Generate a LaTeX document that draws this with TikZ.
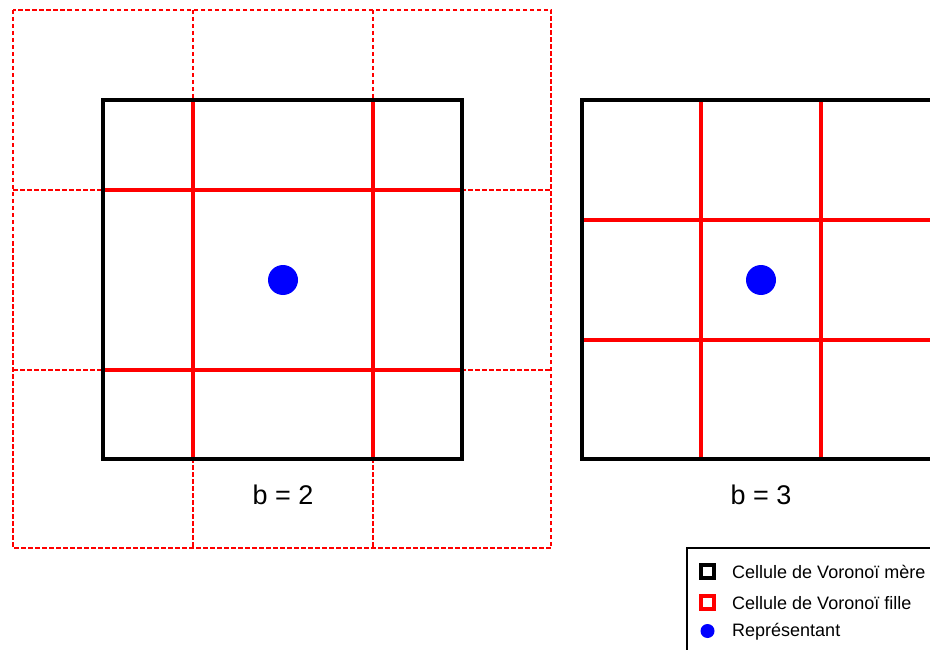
\documentclass[tikz,border=0pt]{standalone}
\usepackage{fontspec}
\setmainfont{Liberation Sans}
\definecolor{vred}{RGB}{255,0,0}
\definecolor{vblue}{RGB}{0,0,255}
\begin{document}
\begin{tikzpicture}[x=1pt,y=-1pt,
  mother/.style={draw=black,line width=3.6pt},
  child/.style={draw=vred,line width=3.2pt},
  childdash/.style={draw=vred,line width=2.9pt,dash pattern=on 4.5pt off 2.5pt},
  rep/.style={fill=vblue},
  lbl/.style={font=\fontsize{27}{32}\selectfont,inner sep=0pt},
  legtext/.style={font=\fontsize{18}{21}\selectfont,anchor=west,inner sep=0pt}]
\useasboundingbox (0,0) rectangle (930,650);
\clip (0,0) rectangle (930,650);
\fill[white] (0,0) rectangle (930,650);
% ---- left figure (b = 2)
\draw[childdash] (13,10) rectangle (551,548);
\draw[childdash] (193,10) -- (193,548);
\draw[childdash] (373,10) -- (373,548);
\draw[childdash] (13,190) -- (551,190);
\draw[childdash] (13,370) -- (551,370);
\draw[child] (193,100) -- (193,459);
\draw[child] (373,100) -- (373,459);
\draw[child] (103,190) -- (462,190);
\draw[child] (103,370) -- (462,370);
\draw[mother] (103,100) rectangle (462,459);
\fill[rep] (283,280) circle (15);
\node[lbl] (b2) at (283,495) {b = 2};
% ---- right figure (b = 3)
\draw[child] (701,100) -- (701,459);
\draw[child] (821,100) -- (821,459);
\draw[child] (582,220) -- (942,220);
\draw[child] (582,340) -- (942,340);
\draw[mother] (582,100) rectangle (942,459);
\fill[rep] (761,280) circle (15);
\node[lbl] (b3) at (761,495) {b = 3};
% ---- legend
\draw[black,line width=1.6pt] (687,548) rectangle (960,680);
\draw[black,line width=3.2pt] (701,565) rectangle (714,578);
\draw[vred,line width=3.2pt] (701,596) rectangle (714,609);
\fill[vblue] (707.5,631) circle (7);
\node[legtext] (l1) at (732,572) {Cellule de Voronoï mère};
\node[legtext] (l2) at (732,603) {Cellule de Voronoï fille};
\node[legtext] (l3) at (732,632) {Représentant};
\end{tikzpicture}
\end{document}
